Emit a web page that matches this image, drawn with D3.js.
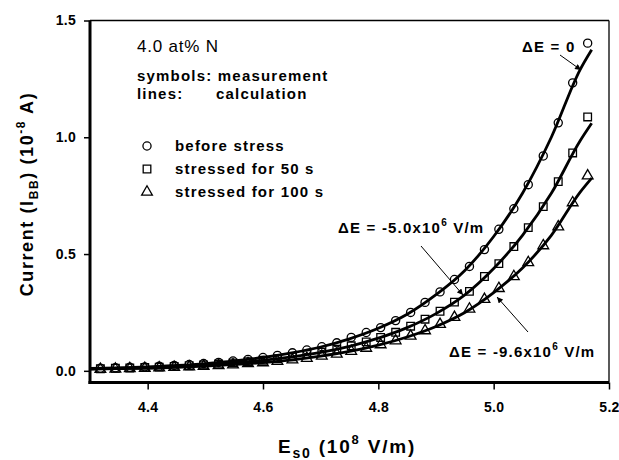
<!DOCTYPE html>
<html>
<head>
<meta charset="utf-8">
<script src="https://cdn.jsdelivr.net/npm/d3@7"></script>
<style>
  body { margin: 0; background: #fff; }
  text { font-family: "Liberation Sans", Arial, sans-serif; fill: #000; }
</style>
</head>
<body>
<div id="my_dataviz"></div>
<script>
// measured field points (10^8 V/m), shared by the three measurements
var eField = [4.318, 4.344, 4.369, 4.395, 4.420, 4.446, 4.472, 4.497, 4.523, 4.548,
              4.574, 4.600, 4.625, 4.651, 4.676, 4.702, 4.728, 4.753, 4.779, 4.804,
              4.830, 4.856, 4.881, 4.907, 4.932, 4.958, 4.984, 5.009, 5.035, 5.060,
              5.086, 5.112, 5.137, 5.163];
// measured current (10^-8 A)
var beforeStress = [0.011, 0.013, 0.015, 0.017, 0.020, 0.023, 0.027, 0.031, 0.036, 0.042,
                    0.049, 0.057, 0.066, 0.077, 0.089, 0.103, 0.120, 0.143, 0.164, 0.185,
                    0.215, 0.250, 0.293, 0.338, 0.391, 0.447, 0.519, 0.606, 0.694, 0.797,
                    0.920, 1.062, 1.233, 1.403];
var stress50 = [0.009, 0.011, 0.012, 0.014, 0.016, 0.019, 0.022, 0.025, 0.029, 0.034,
                0.039, 0.045, 0.052, 0.060, 0.070, 0.080, 0.093, 0.107, 0.124, 0.143,
                0.165, 0.191, 0.221, 0.255, 0.294, 0.340, 0.404, 0.459, 0.532, 0.613,
                0.703, 0.810, 0.933, 1.087];
var stress100 = [0.007, 0.008, 0.010, 0.011, 0.013, 0.015, 0.017, 0.020, 0.023, 0.026,
                 0.031, 0.035, 0.041, 0.047, 0.054, 0.063, 0.072, 0.084, 0.097, 0.112,
                 0.129, 0.149, 0.172, 0.199, 0.229, 0.265, 0.306, 0.353, 0.404, 0.464,
                 0.536, 0.617, 0.720, 0.835];

// calculated curves
var calcE = [4.30, 4.35, 4.40, 4.45, 4.50, 4.55, 4.60, 4.65, 4.70, 4.75,
             4.80, 4.85, 4.90, 4.95, 5.00, 5.05, 5.10, 5.15, 5.17];
var calcBefore = [0.010, 0.013, 0.017, 0.023, 0.031, 0.042, 0.057, 0.077, 0.102, 0.137,
                  0.182, 0.242, 0.326, 0.430, 0.575, 0.760, 1.000, 1.290, 1.375];
var calc50 = [0.008, 0.011, 0.014, 0.019, 0.025, 0.034, 0.045, 0.060, 0.079, 0.105,
              0.140, 0.185, 0.245, 0.325, 0.438, 0.580, 0.760, 0.985, 1.060];
var calc100 = [0.007, 0.009, 0.011, 0.015, 0.020, 0.027, 0.035, 0.047, 0.063, 0.083,
               0.110, 0.145, 0.190, 0.250, 0.335, 0.440, 0.580, 0.765, 0.825];

var xTicks = [4.4, 4.6, 4.8, 5.0, 5.2];
var yTicks = [0.0, 0.5, 1.0, 1.5];
var legendNames = ["before stress", "stressed for 50 s", "stressed for 100 s"];

var width = 619, height = 460;
var svg = d3.select("#my_dataviz")
  .append("svg")
    .attr("width", width)
    .attr("height", height);

var x = d3.scaleLinear().domain([4.3, 5.2]).range([90, 609]);
var y = d3.scaleLinear().domain([-0.05, 1.5]).range([382.5, 20.5]);

svg.append("defs").append("marker")
  .attr("id", "arrow")
  .attr("viewBox", "0 0 10 10")
  .attr("refX", 10).attr("refY", 5)
  .attr("markerWidth", 7).attr("markerHeight", 6)
  .attr("markerUnits", "userSpaceOnUse")
  .attr("orient", "auto")
  .append("path")
    .attr("d", "M0,0 L10,5 L0,10 Z")
    .attr("fill", "#000");

// frame (top and right thin)
svg.append("line")
  .attr("x1", x(4.3)).attr("x2", x(5.2)).attr("y1", y(1.5)).attr("y2", y(1.5))
  .attr("stroke", "#000").attr("stroke-width", 1.3);
svg.append("line")
  .attr("x1", x(5.2)).attr("x2", x(5.2)).attr("y1", y(1.5)).attr("y2", y(-0.05))
  .attr("stroke", "#000").attr("stroke-width", 1.3);

// axes
var xAxis = svg.append("g")
  .attr("transform", "translate(0," + y(-0.05) + ")")
  .call(d3.axisBottom(x).tickValues(xTicks).tickFormat(d3.format(".1f"))
        .tickSize(7).tickSizeOuter(0).tickPadding(13));
var yAxis = svg.append("g")
  .attr("transform", "translate(" + x(4.3) + ",0)")
  .call(d3.axisLeft(y).tickValues(yTicks).tickFormat(d3.format(".1f"))
        .tickSize(6).tickSizeOuter(0).tickPadding(8));

[xAxis, yAxis].forEach(function(g) {
  g.select(".domain").attr("stroke-width", 3);
  g.selectAll(".tick line").attr("stroke-width", 1.5);
  g.selectAll("text")
    .attr("font-size", "14px")
    .attr("font-weight", "bold")
    .attr("letter-spacing", "0.3px")
    .attr("font-family", "Liberation Sans, Arial, sans-serif");
});
xAxis.select(".domain").attr("d", "M" + (x(4.3) - 1.5) + ",0H" + x(5.2));
yAxis.select(".domain").attr("d", "M0," + y(1.5) + "V" + (y(-0.05) + 1.5));

// calculated lines
var line = d3.line()
  .x(function(d){ return x(d[0]) })
  .y(function(d){ return y(d[1]) })
  .curve(d3.curveMonotoneX);

[calcBefore, calc50, calc100].forEach(function(vals) {
  svg.append("path")
    .datum(calcE.map(function(e, i){ return [e, vals[i]] }))
    .attr("d", line)
    .attr("fill", "none")
    .attr("stroke", "#000")
    .attr("stroke-width", 2.8);
});

// measured symbols
var shapes = [d3.symbolCircle, d3.symbolSquare, d3.symbolTriangle];
var sizes = [52, 58, 50];
[beforeStress, stress50, stress100].forEach(function(vals, k) {
  svg.append("g")
    .selectAll("path")
    .data(eField.map(function(e, i){ return [e, vals[i]] }))
    .enter()
    .append("path")
    .attr("transform", function(d){ return "translate(" + x(d[0]) + "," + y(d[1]) + ")" })
    .attr("d", d3.symbol().type(shapes[k]).size(sizes[k]))
    .attr("fill", "none")
    .attr("stroke", "#000")
    .attr("stroke-width", 1.3);
});

// text block in the upper left
svg.append("text")
  .attr("x", 137).attr("y", 52)
  .attr("font-size", "17px")
  .attr("letter-spacing", "0.8px")
  .text("4.0 at% N");

var bold = function(sel) {
  return sel.attr("font-size", "15px").attr("font-weight", "bold").attr("letter-spacing", "1.2px");
};
bold(svg.append("text").attr("x", 137).attr("y", 81)).text("symbols: measurement");
bold(svg.append("text").attr("x", 137).attr("y", 99)).text("lines:");
bold(svg.append("text").attr("x", 216).attr("y", 99)).text("calculation");

// legend
var legY = [146, 169, 192];
legendNames.forEach(function(name, k) {
  svg.append("path")
    .attr("transform", "translate(147," + legY[k] + ")")
    .attr("d", d3.symbol().type(shapes[k]).size(sizes[k]))
    .attr("fill", "none")
    .attr("stroke", "#000")
    .attr("stroke-width", 1.3);
  bold(svg.append("text").attr("x", 175).attr("y", legY[k] + 4.5)).text(name);
});

// annotations
bold(svg.append("text").attr("x", 522).attr("y", 52)).text("\u0394E = 0");

var t1 = bold(svg.append("text").attr("x", 338).attr("y", 233));
t1.append("tspan").text("\u0394E = -5.0x10");
t1.append("tspan").attr("dy", -7).attr("font-size", "10px").text("6");
t1.append("tspan").attr("dy", 7).text(" V/m");

var t2 = bold(svg.append("text").attr("x", 449).attr("y", 357));
t2.append("tspan").text("\u0394E = -9.6x10");
t2.append("tspan").attr("dy", -7).attr("font-size", "10px").text("6");
t2.append("tspan").attr("dy", 7).text(" V/m");

var arrows = [[560, 55, 581, 70], [421, 246, 463, 295], [528, 332, 497, 297]];
arrows.forEach(function(a) {
  svg.append("line")
    .attr("x1", a[0]).attr("y1", a[1]).attr("x2", a[2]).attr("y2", a[3])
    .attr("stroke", "#000").attr("stroke-width", 1)
    .attr("marker-end", "url(#arrow)");
});

// axis titles
var yt = svg.append("text")
  .attr("transform", "translate(33,194) rotate(-90)")
  .attr("text-anchor", "middle")
  .attr("font-size", "18px").attr("font-weight", "bold").attr("letter-spacing", "1.6px");
yt.append("tspan").text("Current (I");
yt.append("tspan").attr("dy", 5).attr("font-size", "12px").text("BB");
yt.append("tspan").attr("dy", -5).text(") (10");
yt.append("tspan").attr("dy", -8).attr("font-size", "12px").text("-8");
yt.append("tspan").attr("dy", 8).text(" A)");

var xt = svg.append("text")
  .attr("x", 347).attr("y", 453)
  .attr("text-anchor", "middle")
  .attr("font-size", "19px").attr("font-weight", "bold").attr("letter-spacing", "1.8px");
xt.append("tspan").text("E");
xt.append("tspan").attr("dy", 5).attr("font-size", "14px").text("s0");
xt.append("tspan").attr("dy", -5).text(" (10");
xt.append("tspan").attr("dy", -9).attr("font-size", "13px").text("8");
xt.append("tspan").attr("dy", 9).text(" V/m)");
</script>
</body>
</html>
